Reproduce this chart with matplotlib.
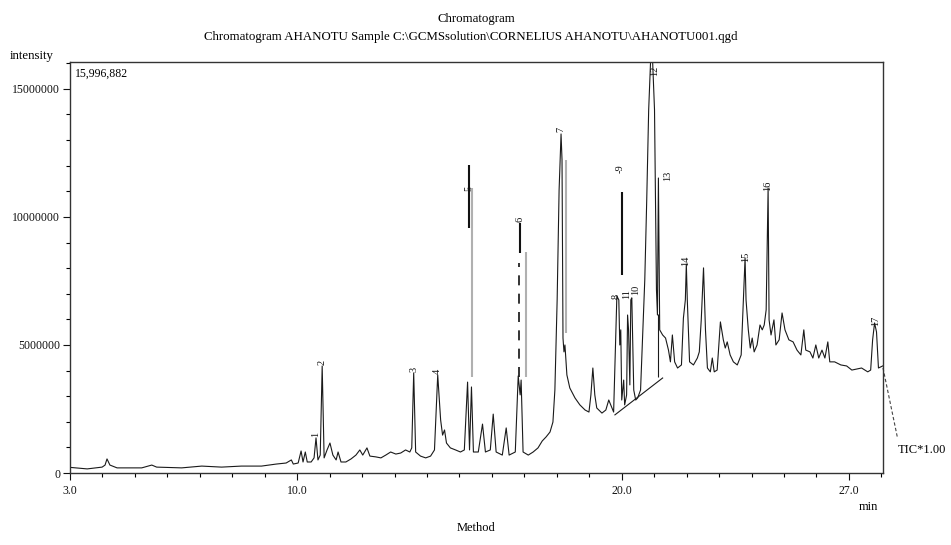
import matplotlib
matplotlib.use("Agg")
import matplotlib.pyplot as plt
from matplotlib.ticker import FixedLocator, MultipleLocator, FuncFormatter

plt.rcParams['font.family'] = ['Liberation Serif', 'DejaVu Serif']

# retention time (min) and TIC intensity (millions of counts)
times = [3.00, 3.53, 3.99, 4.08, 4.14, 4.23, 4.45, 5.21, 5.52, 5.67, 6.44, 7.06, 7.67,
         8.28, 8.90, 9.36, 9.66, 9.82, 9.88, 10.03, 10.12, 10.18, 10.25, 10.31, 10.43,
         10.52, 10.58, 10.64, 10.71, 10.77, 10.83, 10.92, 11.01, 11.10, 11.20, 11.26,
         11.35, 11.50, 11.66, 11.81, 11.93, 12.02, 12.15, 12.24, 12.42, 12.58, 12.73,
         12.88, 13.04, 13.19, 13.34, 13.47, 13.53, 13.59, 13.65, 13.80, 13.96, 14.11,
         14.23, 14.33, 14.42, 14.48, 14.54, 14.60, 14.72, 14.88, 15.03, 15.15, 15.25,
         15.31, 15.37, 15.43, 15.58, 15.71, 15.80, 15.95, 16.04, 16.13, 16.32, 16.44,
         16.53, 16.72, 16.81, 16.87, 16.90, 16.96, 17.12, 17.27, 17.42, 17.55, 17.67,
         17.79, 17.88, 17.94, 18.01, 18.07, 18.13, 18.16, 18.19, 18.22, 18.25, 18.31,
         18.40, 18.56, 18.71, 18.87, 18.99, 19.05, 19.11, 19.17, 19.23, 19.39, 19.51,
         19.60, 19.66, 19.75, 19.82, 19.85, 19.91, 19.94, 19.97, 20.00, 20.06, 20.09,
         20.15, 20.18, 20.21, 20.25, 20.28, 20.31, 20.37, 20.43, 20.49, 20.58, 20.64,
         20.71, 20.77, 20.83, 20.89, 20.95, 21.01, 21.07, 21.10, 21.13, 21.17, 21.26,
         21.35, 21.44, 21.50, 21.56, 21.63, 21.72, 21.84, 21.90, 21.96, 21.99, 22.02,
         22.09, 22.21, 22.33, 22.39, 22.45, 22.52, 22.58, 22.64, 22.73, 22.79, 22.85,
         22.94, 23.04, 23.13, 23.19, 23.25, 23.34, 23.44, 23.56, 23.68, 23.74, 23.80,
         23.83, 23.90, 23.96, 24.02, 24.08, 24.17, 24.26, 24.33, 24.39, 24.45, 24.51,
         24.54, 24.60, 24.69, 24.75, 24.85, 24.94, 25.03, 25.15, 25.28, 25.40, 25.52,
         25.61, 25.67, 25.80, 25.89, 25.98, 26.07, 26.17, 26.26, 26.35, 26.41, 26.56,
         26.75, 26.93, 27.09, 27.24, 27.39, 27.58, 27.67, 27.73, 27.79, 27.85, 27.91,
         28.04]
intensity = [0.22, 0.16, 0.23, 0.31, 0.55, 0.31, 0.20, 0.20, 0.31, 0.23, 0.20, 0.27, 0.23,
             0.27, 0.27, 0.35, 0.39, 0.51, 0.35, 0.39, 0.86, 0.43, 0.82, 0.43, 0.43,
             0.59, 1.37, 0.51, 0.70, 4.18, 0.59, 0.90, 1.17, 0.70, 0.51, 0.82,
             0.43, 0.43, 0.55, 0.70, 0.90, 0.70, 0.98, 0.66, 0.63, 0.59, 0.70,
             0.82, 0.74, 0.78, 0.90, 0.82, 0.98, 3.91, 0.82, 0.66, 0.59, 0.66,
             0.90, 3.83, 2.07, 1.48, 1.68, 1.17, 0.98, 0.90, 0.82, 0.90, 3.55,
             0.90, 3.36, 0.82, 0.82, 1.91, 0.82, 0.90, 2.30, 0.82, 0.70, 1.76,
             0.70, 0.82, 3.79, 3.05, 3.63, 0.82, 0.70, 0.82, 0.98, 1.25, 1.41,
             1.60, 1.99, 3.24, 6.76, 11.05, 13.24, 12.23, 5.27, 4.73, 5.00, 3.83,
             3.32, 2.93, 2.66, 2.46, 2.38, 3.05, 4.10, 3.05, 2.54, 2.34, 2.46,
             2.85, 2.66, 2.38, 5.59, 6.91, 6.76, 5.00, 5.59, 2.85, 3.63, 2.66,
             3.05, 6.17, 5.59, 3.44, 6.76, 6.84, 3.24, 2.85, 2.93, 3.24, 5.20,
             7.54, 10.66, 14.18, 16.13, 16.13, 14.18, 7.15, 6.17, 11.52, 5.59, 5.39,
             5.27, 4.80, 4.34, 5.39, 4.34, 4.10, 4.22, 6.05, 6.76, 8.16, 6.76,
             4.34, 4.22, 4.49, 4.73, 5.98, 8.01, 5.59, 4.10, 3.95, 4.49, 3.95,
             4.02, 5.90, 5.20, 4.88, 5.12, 4.61, 4.34, 4.22, 4.61, 6.56, 8.40,
             6.76, 5.59, 4.88, 5.27, 4.73, 5.00, 5.78, 5.59, 5.78, 6.37, 11.13,
             5.98, 5.39, 5.98, 5.00, 5.20, 6.25, 5.59, 5.20, 5.12, 4.80, 4.61,
             5.59, 4.80, 4.73, 4.49, 5.00, 4.49, 4.80, 4.49, 5.12, 4.34, 4.34,
             4.22, 4.18, 4.02, 4.06, 4.10, 3.95, 4.02, 5.20, 5.86, 5.51, 4.10,
             4.18]

# peak numbers and where their labels sit (bottom of the rotated text)
peak_ids = ['1', '2', '3', '4', '5', '6', '7', '8', '-9', '10', '11', '12', '13', '14', '15', '16', '17']
peak_t = [10.58, 10.77, 13.59, 14.33, 15.29, 16.87, 18.13, 19.83, 19.94, 20.44, 20.16,
          21.00, 21.41, 21.96, 23.83, 24.51, 27.82]
peak_lab = [1.40, 4.22, 3.95, 3.85, 11.0, 9.80, 13.30, 6.80, 11.70, 6.95, 6.80,
            15.5, 11.4, 8.10, 8.24, 11.0, 5.74]

# identification marker bars drawn above some peaks
mark_t = [15.28, 15.40, 16.87, 17.06, 18.28, 20.00]
mark_top = [12.03, 11.13, 9.77, 8.63, 12.23, 10.98]
mark_bot = [9.57, 3.75, 8.59, 3.75, 5.47, 7.73]
mark_col = ['#111111', '#b0b0b0', '#111111', '#b0b0b0', '#b0b0b0', '#111111']

# integration baseline under peaks 8-13
base_t = [19.79, 21.26]
base_I = [2.27, 3.71]

fig = plt.figure(figsize=(9.51, 5.45), dpi=100)
ax = fig.add_axes([70 / 951, 72 / 545, 813 / 951, 411 / 545])

ax.plot(times, [v * 1e6 for v in intensity], color='#1a1a1a', lw=0.8)
ax.plot(base_t, [v * 1e6 for v in base_I], color='#1a1a1a', lw=0.8)
ax.vlines(21.13, 3.75e6, 6.2e6, color='#1a1a1a', lw=0.8)
ax.vlines(mark_t, [v * 1e6 for v in mark_bot], [v * 1e6 for v in mark_top],
          colors=mark_col, lw=1.5)
ax.vlines(16.84, 3.75e6, 8.2e6, color='#111111', lw=1.2, linestyles=(0, (6, 5)))

for lab, t, v in zip(peak_ids, peak_t, peak_lab):
    ax.text(t, v * 1e6, lab, rotation=90, ha='center', va='bottom',
            fontsize=7.5, color='#111111', clip_on=True)

ax.set_xlim(3.0, 28.05)
ax.set_ylim(0, 16.05e6)
ax.xaxis.set_major_locator(FixedLocator([3.0, 10.0, 20.0, 27.0]))
ax.xaxis.set_minor_locator(MultipleLocator(1.0))
ax.xaxis.set_major_formatter(FuncFormatter(lambda v, p: '%.1f' % v))
ax.yaxis.set_major_locator(MultipleLocator(5e6))
ax.yaxis.set_minor_locator(MultipleLocator(1e6))
ax.yaxis.set_major_formatter(FuncFormatter(lambda v, p: '%d' % v))
ax.tick_params(which='major', length=5, width=0.8, labelsize=8.5, colors='#111111')
ax.tick_params(axis='y', which='major', pad=2)
ax.tick_params(axis='x', which='major', pad=4)
ax.tick_params(which='minor', length=3, width=0.8)
for s in ax.spines.values():
    s.set_linewidth(1.0)
    s.set_color('#333333')

ax.text(0.006, 0.985, '15,996,882', transform=ax.transAxes, ha='left', va='top', fontsize=8.5)

# TIC leader
ax.plot([28.05, 28.5], [4.1e6, 1.35e6], color='#444444', lw=0.8, ls=(0, (3, 2)), clip_on=False)
fig.text(898 / 951, 1 - 450 / 545, 'TIC*1.00', ha='left', va='center', fontsize=9)

fig.text(476 / 951, 1 - 19 / 545, 'Chromatogram', ha='center', va='center', fontsize=9.3)
fig.text(471 / 951, 1 - 37 / 545,
         'Chromatogram AHANOTU Sample C:\\GCMSsolution\\CORNELIUS AHANOTU\\AHANOTU001.qgd',
         ha='center', va='center', fontsize=9.3)
fig.text(10 / 951, 1 - 56 / 545, 'intensity', ha='left', va='center', fontsize=9.3)
fig.text(868 / 951, 1 - 507 / 545, 'min', ha='center', va='center', fontsize=9)
fig.text(476 / 951, 1 - 528 / 545, 'Method', ha='center', va='center', fontsize=9)

fig.savefig('out.png', dpi=100)
